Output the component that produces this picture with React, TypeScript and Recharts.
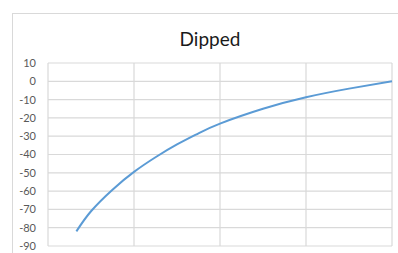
import React from "react";
import { LineChart, Line, XAxis, YAxis, CartesianGrid } from "recharts";

// x positions along the (unlabelled) horizontal axis, 0..4
const xValues: number[] = [0.33, 0.5, 0.75, 1, 1.25, 1.5, 1.75, 2, 2.5, 3, 3.5, 4];
const yValues: number[] = [-82, -71, -59.2, -49.5, -41.5, -34.5, -28.4, -23.1, -15, -8.7, -4, 0];
const yTicks: number[] = [10, 0, -10, -20, -30, -40, -50, -60, -70, -80, -90];
const xTicks: number[] = [0, 1, 2, 3, 4];
const title = "Dipped";

const data = xValues.map((x, i) => ({ x, y: yValues[i] }));

const font = "Lato, 'Open Sans', sans-serif";

const App: React.FC = () => {
  return (
    <div
      style={{
        position: "fixed",
        left: 0,
        top: 0,
        width: 398,
        height: 253,
        overflow: "hidden",
        background: "#fff",
        fontFamily: font
      }}
    >
      <div
        style={{
          position: "absolute",
          left: 12,
          top: 13,
          width: 420,
          height: 280,
          border: "1px solid #d9d9d9"
        }}
      />
      <div
        style={{
          position: "absolute",
          left: 0,
          width: 420,
          top: 27,
          textAlign: "center",
          fontSize: 19,
          color: "#1a1a1a"
        }}
      >
        {title}
      </div>
      <div style={{ position: "absolute", left: 0, top: 0 }}>
        <LineChart
          width={398}
          height={253}
          data={data}
          margin={{ top: 63, right: 6, left: 0, bottom: 7 }}
        >
          <CartesianGrid stroke="#d9d9d9" strokeWidth={1.2} />
          <XAxis dataKey="x" type="number" domain={[0, 4]} ticks={xTicks} hide />
          <YAxis
            type="number"
            domain={[-90, 10]}
            ticks={yTicks}
            width={48}
            axisLine={false}
            tickLine={false}
            tickMargin={6}
            interval={0}
            tick={{ fill: "#595959", fontSize: 11, fontFamily: font }}
          />
          <Line
            type="natural"
            dataKey="y"
            stroke="#5b9bd5"
            strokeWidth={2}
            dot={false}
            isAnimationActive={false}
          />
        </LineChart>
      </div>
    </div>
  );
};

export default App;
